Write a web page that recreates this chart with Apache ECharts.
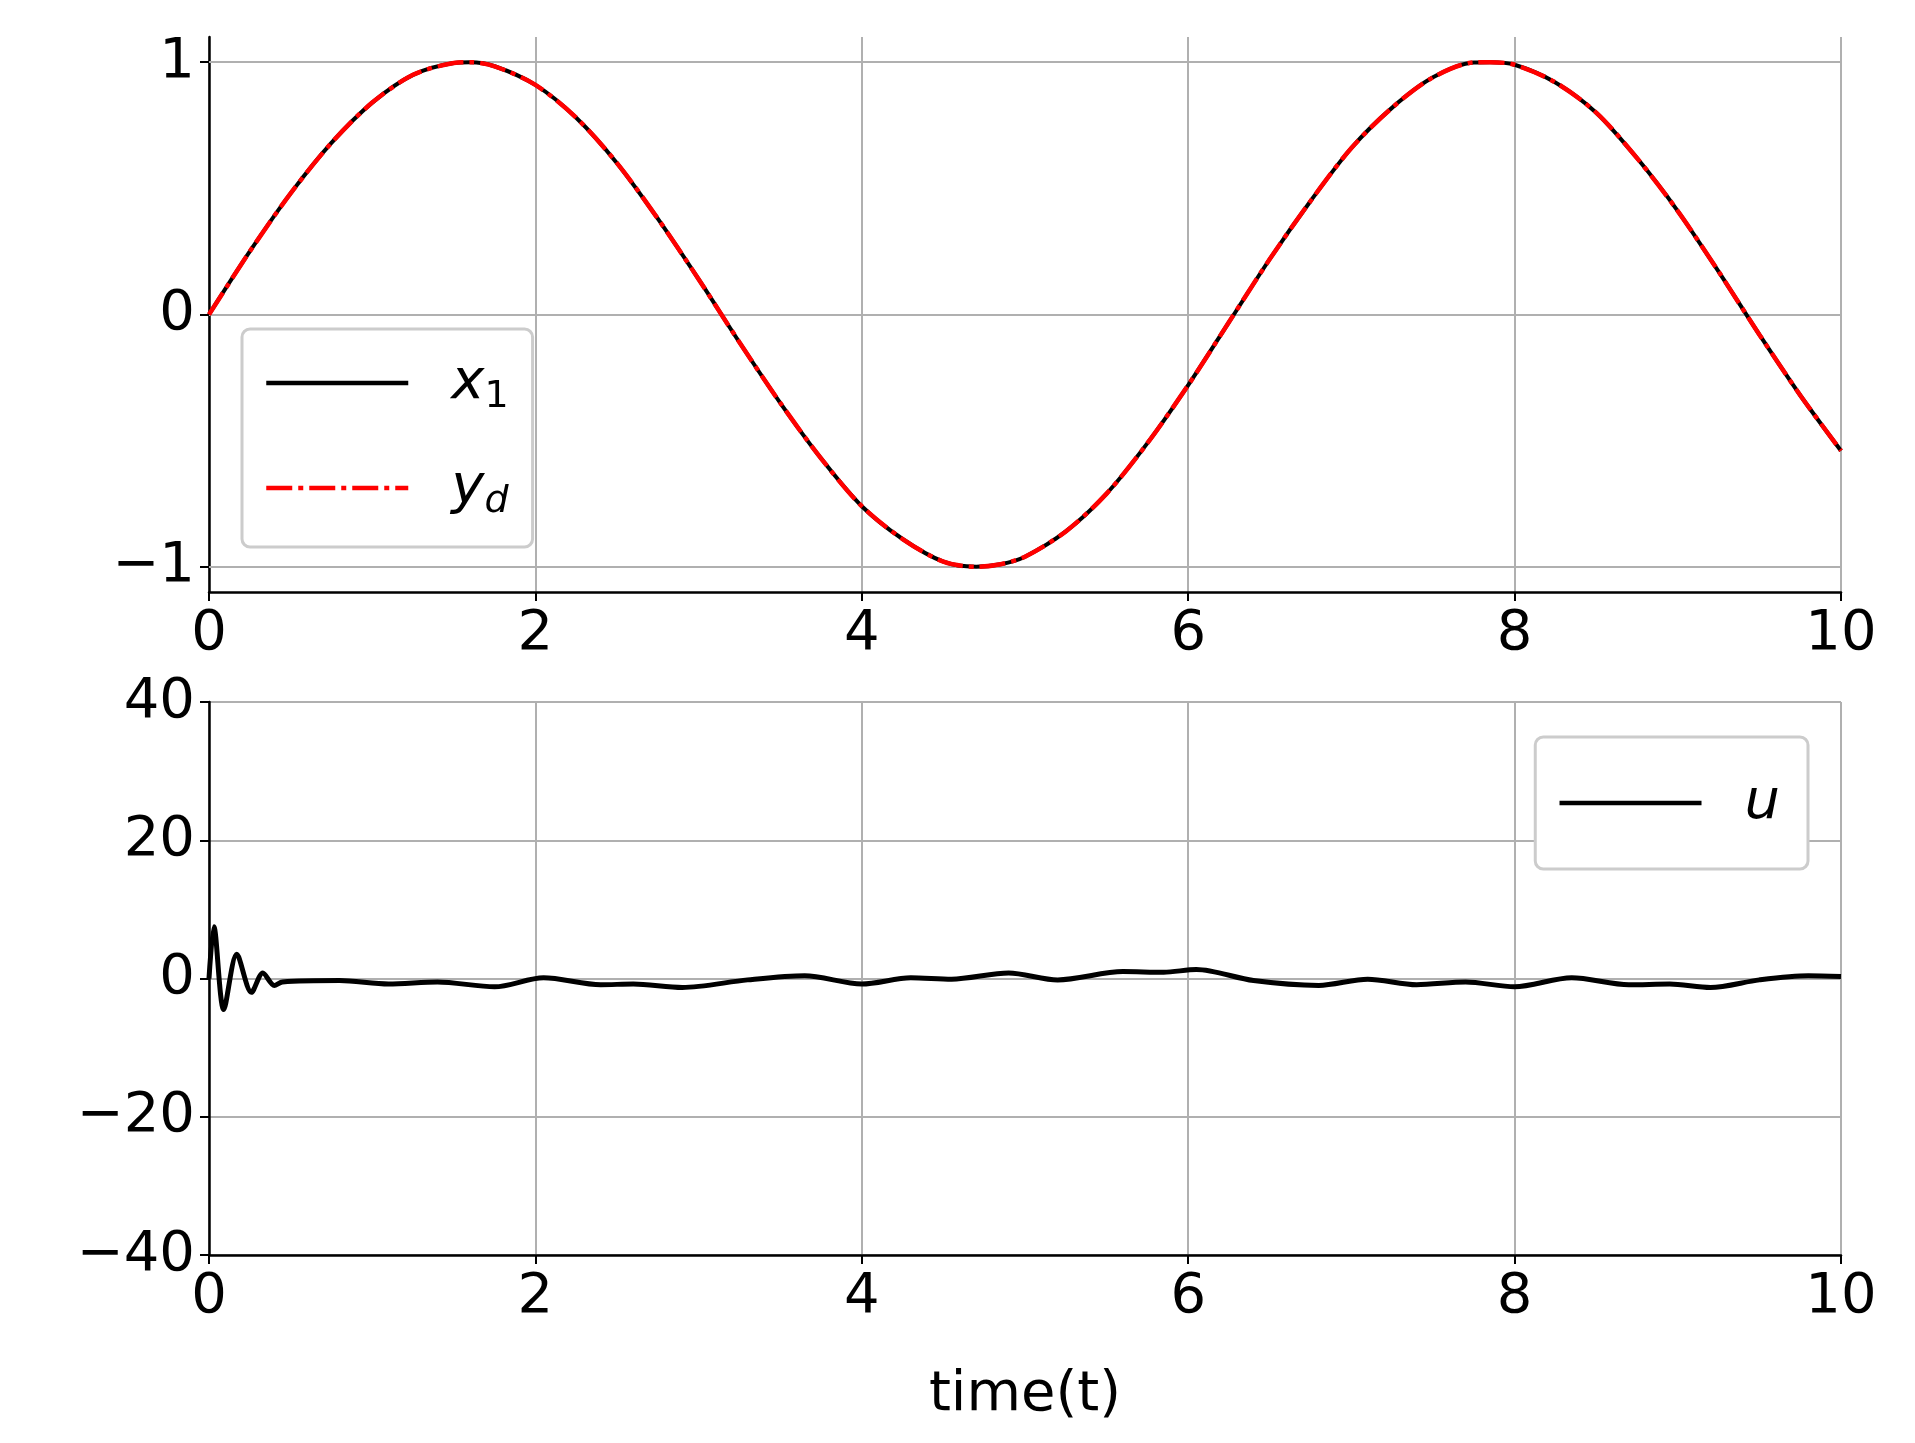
<!DOCTYPE html>
<html>
<head>
<meta charset="UTF-8">
<title>x1 / yd / u</title>
<script src="https://cdn.jsdelivr.net/npm/echarts/dist/echarts.min.js"></script>
</head>
<body style="margin:0;background:#fff">
<div id="main" style="width:1915px;height:1443px;"></div>
<script>
// top plot: tracking
var tTop = [0,0.25,0.5,0.75,1,1.25,1.5,1.6,1.75,2,2.25,2.5,2.75,3,3.25,3.5,3.75,4,4.25,4.5,4.7,4.85,5,
            5.25,5.5,5.75,6,6.25,6.5,6.75,7,7.25,7.5,7.75,7.85,8,8.25,8.5,8.75,9,9.25,9.5,9.75,10];
var yd = [0,0.25,0.48,0.68,0.84,0.95,0.997,1.0,0.984,0.91,0.78,0.6,0.38,0.14,-0.11,-0.35,-0.57,-0.76,-0.89,-0.98,-1.0,-0.99,-0.96,
          -0.86,-0.71,-0.51,-0.28,-0.03,0.22,0.45,0.66,0.82,0.94,0.999,1.0,0.99,0.92,0.8,0.62,0.41,0.17,-0.08,-0.32,-0.54];
var x1 = yd.slice();
var topTicks = [-1, 0, 1];

// bottom plot: control input u
var tU = [0,0.03,0.09,0.17,0.26,0.33,0.4,0.45,0.8,1.1,1.4,1.75,2.05,2.4,2.6,2.9,3.3,3.65,4.0,4.3,4.55,4.9,5.2,
          5.6,5.85,6.05,6.4,6.8,7.1,7.4,7.7,8.0,8.35,8.7,8.95,9.2,9.5,9.8,10];
var u = [0,7.5,-4.5,3.5,-2,0.8,-1,-0.5,-0.3,-0.8,-0.5,-1.2,0.1,-0.9,-0.8,-1.3,-0.2,0.4,-0.8,0.1,-0.1,0.8,-0.2,
         1.0,0.9,1.3,-0.3,-1.0,-0.1,-0.9,-0.5,-1.2,0.1,-0.9,-0.8,-1.3,-0.2,0.4,0.3];

function pairs(xs, ys) { return xs.map(function (x, i) { return [x, ys[i]]; }); }
function minus(v) { return v < 0 ? '\u2212' + (-v) : '' + v; }

var font = 'DejaVu Sans';
var FS = 56;
var axisLine = { show: true, onZero: false, lineStyle: { color: '#000', width: 2.5 } };
var tick = { show: true, length: 9, lineStyle: { color: '#000', width: 2 } };
var split = { show: true, lineStyle: { color: '#b0b0b0', width: 2 } };
var lbl = { color: '#000', fontSize: FS, fontFamily: font, margin: 14 };
var rich = {
  i: { fontStyle: 'italic', fontSize: FS, fontFamily: font, color: '#000' },
  s: { fontSize: 38, fontFamily: font, color: '#000', padding: [28, 0, 0, 0] },
  si: { fontStyle: 'italic', fontSize: 38, fontFamily: font, color: '#000', padding: [28, 0, 0, 0] }
};

var myChart = echarts.init(document.getElementById('main'));
myChart.setOption({
  animation: false,
  backgroundColor: '#fff',
  grid: [
    { left: 209, right: 74, top: 37, height: 555 },
    { left: 209, right: 74, top: 702, height: 553 }
  ],
  xAxis: [0, 1].map(function (g) {
    return {
      type: 'value', gridIndex: g, min: 0, max: 10, interval: 2,
      axisLine: axisLine, axisTick: tick, axisLabel: lbl, splitLine: split,
      name: g === 1 ? 'time(t)' : '', nameLocation: 'middle', nameGap: 112,
      nameTextStyle: { color: '#000', fontSize: FS, fontFamily: font }
    };
  }),
  yAxis: [
    { type: 'value', gridIndex: 0, min: -1.1, max: 1.1,
      axisLabel: Object.assign({ customValues: topTicks, formatter: minus }, lbl),
      axisLine: axisLine, axisTick: Object.assign({ customValues: topTicks }, tick),
      splitLine: { show: false } },
    { type: 'value', gridIndex: 1, min: -40, max: 40, interval: 20,
      axisLabel: Object.assign({ formatter: minus }, lbl),
      axisLine: axisLine, axisTick: tick, splitLine: split }
  ],
  legend: [
    { data: ['x1', 'yd'], orient: 'vertical', left: 242, top: 329, padding: [26, 24, 26, 22], itemGap: 44,
      itemWidth: 142, itemHeight: 20, backgroundColor: '#fff', borderColor: '#cccccc', borderWidth: 3, borderRadius: 8,
      itemStyle: { opacity: 0 }, lineStyle: { width: 4.5 },
      formatter: function (n) { return n === 'x1' ? '{i|x}{s|1}' : '{i|y}{si|d}'; },
      textStyle: { rich: rich, padding: [0, 0, 0, 38] } },
    { data: ['u'], orient: 'vertical', right: 107, top: 737, padding: [38, 28, 38, 22],
      itemWidth: 142, itemHeight: 20, backgroundColor: '#fff', borderColor: '#cccccc', borderWidth: 3, borderRadius: 8,
      itemStyle: { opacity: 0 }, lineStyle: { width: 4.5 },
      formatter: function () { return '{i|u}'; },
      textStyle: { rich: rich, padding: [0, 0, 0, 38] } }
  ],
  series: [
    { name: 'x1', type: 'line', xAxisIndex: 0, yAxisIndex: 0, data: pairs(tTop, x1), smooth: 0.3,
      symbol: 'none', lineStyle: { color: '#000', width: 4 }, itemStyle: { color: '#000' },
      markLine: { silent: true, symbol: 'none', label: { show: false }, z: 1,
        lineStyle: { color: '#b0b0b0', width: 2, type: 'solid' },
        data: topTicks.map(function (v) { return { yAxis: v }; }) } },
    { name: 'yd', type: 'line', xAxisIndex: 0, yAxisIndex: 0, data: pairs(tTop, yd), smooth: 0.3,
      symbol: 'none', lineStyle: { color: '#ff0000', width: 4.5, type: [26, 6, 5, 6] }, itemStyle: { color: '#ff0000' } },
    { name: 'u', type: 'line', xAxisIndex: 1, yAxisIndex: 1, data: pairs(tU, u), smooth: 0.3,
      symbol: 'none', lineStyle: { color: '#000', width: 5 }, itemStyle: { color: '#000' } }
  ]
});
</script>
</body>
</html>
